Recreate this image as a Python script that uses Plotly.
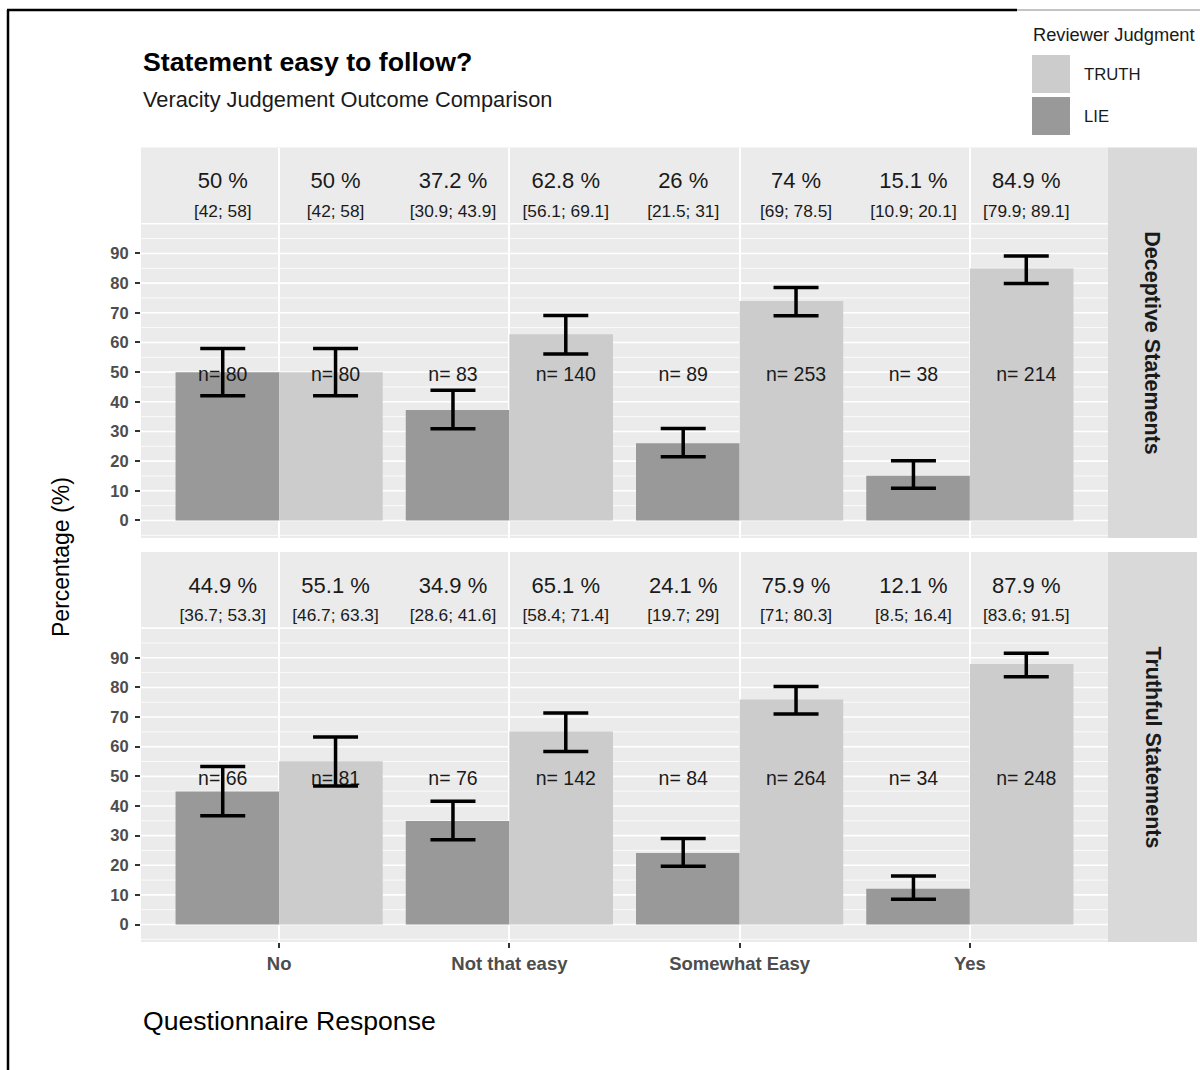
import plotly.graph_objects as go

# ---- data -------------------------------------------------------------
categories = ["No", "Not that easy", "Somewhat Easy", "Yes"]
facets = ["Deceptive Statements", "Truthful Statements"]

# Deceptive statements
dec_lie_pct = [50, 37.2, 26, 15.1]
dec_lie_lo = [42, 30.9, 21.5, 10.9]
dec_lie_hi = [58, 43.9, 31, 20.1]
dec_lie_n = [80, 83, 89, 38]
dec_truth_pct = [50, 62.8, 74, 84.9]
dec_truth_lo = [42, 56.1, 69, 79.9]
dec_truth_hi = [58, 69.1, 78.5, 89.1]
dec_truth_n = [80, 140, 253, 214]

# Truthful statements
tru_lie_pct = [44.9, 34.9, 24.1, 12.1]
tru_lie_lo = [36.7, 28.6, 19.7, 8.5]
tru_lie_hi = [53.3, 41.6, 29, 16.4]
tru_lie_n = [66, 76, 84, 34]
tru_truth_pct = [55.1, 65.1, 75.9, 87.9]
tru_truth_lo = [46.7, 58.4, 71, 83.6]
tru_truth_hi = [63.3, 71.4, 80.3, 91.5]
tru_truth_n = [81, 142, 264, 248]

y_tick_values = [0, 10, 20, 30, 40, 50, 60, 70, 80, 90]

# ---- styling ----------------------------------------------------------
W, H = 1200, 1070
FONT = "Liberation Sans, Arial, sans-serif"
LIE_COLOR = "#999999"
TRUTH_COLOR = "#CCCCCC"
PANEL_BG = "#EBEBEB"
STRIP_BG = "#D9D9D9"
DODGE = 0.245          # offset of error bars / labels from the category centre
PCT_Y, CI_Y, N_Y = 113.8, 103.8, 48.8   # label rows inside each panel


def px_x(p):
    return p / W


def px_y(p):
    return 1 - p / H


X_DOM = [px_x(141), px_x(1108)]
Y_DOMS = [[px_y(538), px_y(147.5)], [px_y(942), px_y(552)]]
Y_RANGE = [-5.9, 125.7]
X_RANGE = [0.4, 4.6]

panels = [
    dict(lie=(dec_lie_pct, dec_lie_lo, dec_lie_hi, dec_lie_n),
         truth=(dec_truth_pct, dec_truth_lo, dec_truth_hi, dec_truth_n)),
    dict(lie=(tru_lie_pct, tru_lie_lo, tru_lie_hi, tru_lie_n),
         truth=(tru_truth_pct, tru_truth_lo, tru_truth_hi, tru_truth_n)),
]

fig = go.Figure()
xs = [i + 1 for i in range(len(categories))]


def fmt(v):
    return f"{v:g}"


for p, panel in enumerate(panels):
    xa = "x" if p == 0 else "x2"
    ya = "y" if p == 0 else "y2"
    for key, color, side in (("lie", LIE_COLOR, -1), ("truth", TRUTH_COLOR, 1)):
        pct, lo, hi, n = panel[key]
        fig.add_trace(go.Bar(
            x=xs, y=pct, marker=dict(color=color, line=dict(width=0)),
            name=key.upper(), offsetgroup=key, showlegend=False,
            xaxis=xa, yaxis=ya, hoverinfo="skip"))
        xd = [x + side * DODGE for x in xs]
        # labels
        fig.add_trace(go.Scatter(
            x=xd, y=[N_Y] * len(xs), mode="text",
            text=[f"n= {v}" for v in n],
            textfont=dict(family=FONT, size=19.5, color="#1a1a1a"),
            showlegend=False, xaxis=xa, yaxis=ya, hoverinfo="skip"))
        fig.add_trace(go.Scatter(
            x=xd, y=[PCT_Y] * len(xs), mode="text",
            text=[f"{fmt(v)} %" for v in pct],
            textfont=dict(family=FONT, size=22, color="#1a1a1a"),
            showlegend=False, xaxis=xa, yaxis=ya, hoverinfo="skip"))
        fig.add_trace(go.Scatter(
            x=xd, y=[CI_Y] * len(xs), mode="text",
            text=[f"[{fmt(a)}; {fmt(b)}]" for a, b in zip(lo, hi)],
            textfont=dict(family=FONT, size=17.3, color="#1a1a1a"),
            showlegend=False, xaxis=xa, yaxis=ya, hoverinfo="skip"))
        # confidence-interval error bars
        fig.add_trace(go.Scatter(
            x=xd, y=pct, mode="markers",
            marker=dict(size=1, opacity=0),
            error_y=dict(type="data", symmetric=False,
                         array=[h - v for h, v in zip(hi, pct)],
                         arrayminus=[v - l for v, l in zip(pct, lo)],
                         color="black", thickness=3.5, width=22.5),
            showlegend=False, xaxis=xa, yaxis=ya, hoverinfo="skip"))

shapes = []
annotations = []

# horizontal grid (major every 10, minor every 5) and strips
for p in range(2):
    yref = "y" if p == 0 else "y2"
    xref = "x domain" if p == 0 else "x2 domain"
    for v in range(-5, 101, 5):
        shapes.append(dict(type="line", xref=xref, yref=yref,
                           x0=0, x1=1, y0=v, y1=v, layer="below",
                           line=dict(color="white",
                                     width=1.6 if v % 10 == 0 else 0.8)))
    shapes.append(dict(type="rect", xref="paper", yref="paper",
                       x0=px_x(1108), x1=px_x(1197),
                       y0=Y_DOMS[p][0], y1=Y_DOMS[p][1],
                       fillcolor=STRIP_BG, line=dict(width=0), layer="below"))
    annotations.append(dict(
        xref="paper", yref="paper", x=px_x(1152.5),
        y=(Y_DOMS[p][0] + Y_DOMS[p][1]) / 2, text=f"<b>{facets[p]}</b>",
        textangle=90, showarrow=False, xanchor="center", yanchor="middle",
        font=dict(family=FONT, size=21.5, color="#1a1a1a")))

# outer frame
shapes.append(dict(type="line", xref="paper", yref="paper",
                   x0=px_x(8), x1=px_x(8), y0=0, y1=px_y(10),
                   line=dict(color="black", width=2.5)))
shapes.append(dict(type="line", xref="paper", yref="paper",
                   x0=px_x(7), x1=px_x(1017), y0=px_y(10), y1=px_y(10),
                   line=dict(color="black", width=2.5)))
shapes.append(dict(type="line", xref="paper", yref="paper",
                   x0=px_x(1017), x1=1, y0=px_y(10), y1=px_y(10),
                   line=dict(color="#888888", width=1)))

# legend
legend_items = [("TRUTH", TRUTH_COLOR, 55), ("LIE", LIE_COLOR, 97)]
annotations.append(dict(xref="paper", yref="paper", x=px_x(1031), y=px_y(35),
                        xanchor="left", yanchor="middle", showarrow=False,
                        text="Reviewer Judgment",
                        font=dict(family=FONT, size=18.3, color="#1a1a1a")))
for label, color, top in legend_items:
    shapes.append(dict(type="rect", xref="paper", yref="paper",
                       x0=px_x(1032), x1=px_x(1070),
                       y0=px_y(top + 38), y1=px_y(top),
                       fillcolor=color, line=dict(width=0)))
    annotations.append(dict(xref="paper", yref="paper", x=px_x(1082),
                            y=px_y(top + 20), xanchor="left", yanchor="middle",
                            showarrow=False, text=label,
                            font=dict(family=FONT, size=16.7, color="#1a1a1a")))

# titles
annotations += [
    dict(xref="paper", yref="paper", x=px_x(141), y=px_y(62),
         xanchor="left", yanchor="middle", showarrow=False,
         text="<b>Statement easy to follow?</b>",
         font=dict(family=FONT, size=26.7, color="black")),
    dict(xref="paper", yref="paper", x=px_x(141), y=px_y(99),
         xanchor="left", yanchor="middle", showarrow=False,
         text="Veracity Judgement Outcome Comparison",
         font=dict(family=FONT, size=21.8, color="#1a1a1a")),
    dict(xref="paper", yref="paper", x=px_x(141), y=px_y(1021),
         xanchor="left", yanchor="middle", showarrow=False,
         text="Questionnaire Response",
         font=dict(family=FONT, size=26.6, color="black")),
    dict(xref="paper", yref="paper", x=px_x(61), y=px_y(557),
         xanchor="center", yanchor="middle", showarrow=False,
         text="Percentage (%)", textangle=-90,
         font=dict(family=FONT, size=23, color="black")),
]

axis_common = dict(range=X_RANGE, tickvals=xs, showgrid=True,
                   gridcolor="white", gridwidth=1.6, zeroline=False,
                   showline=False, domain=X_DOM, fixedrange=True)
yaxis_common = dict(range=Y_RANGE, tickvals=y_tick_values, showgrid=False,
                    zeroline=False, showline=False, ticks="outside",
                    ticklen=5, tickwidth=1.5, tickcolor="#333333",
                    ticklabelstandoff=3,
                    tickfont=dict(family=FONT, size=16.5, color="#4D4D4D",
                                  weight="bold"),
                    fixedrange=True)

fig.update_layout(
    width=W, height=H,
    margin=dict(l=0, r=0, t=0, b=0),
    paper_bgcolor="white", plot_bgcolor=PANEL_BG,
    barmode="group", bargap=0.1, bargroupgap=0,
    showlegend=False,
    xaxis=dict(**axis_common, anchor="y", showticklabels=False, ticks=""),
    xaxis2=dict(**axis_common, anchor="y2", ticktext=categories,
                ticks="outside", ticklen=5, tickwidth=1.5,
                tickcolor="#333333",
                tickfont=dict(family=FONT, size=18.5, color="#4D4D4D",
                              weight="bold")),
    yaxis=dict(**yaxis_common, domain=Y_DOMS[0], anchor="x"),
    yaxis2=dict(**yaxis_common, domain=Y_DOMS[1], anchor="x2"),
    shapes=shapes, annotations=annotations,
    font=dict(family=FONT),
)

fig.write_html("out.html")
